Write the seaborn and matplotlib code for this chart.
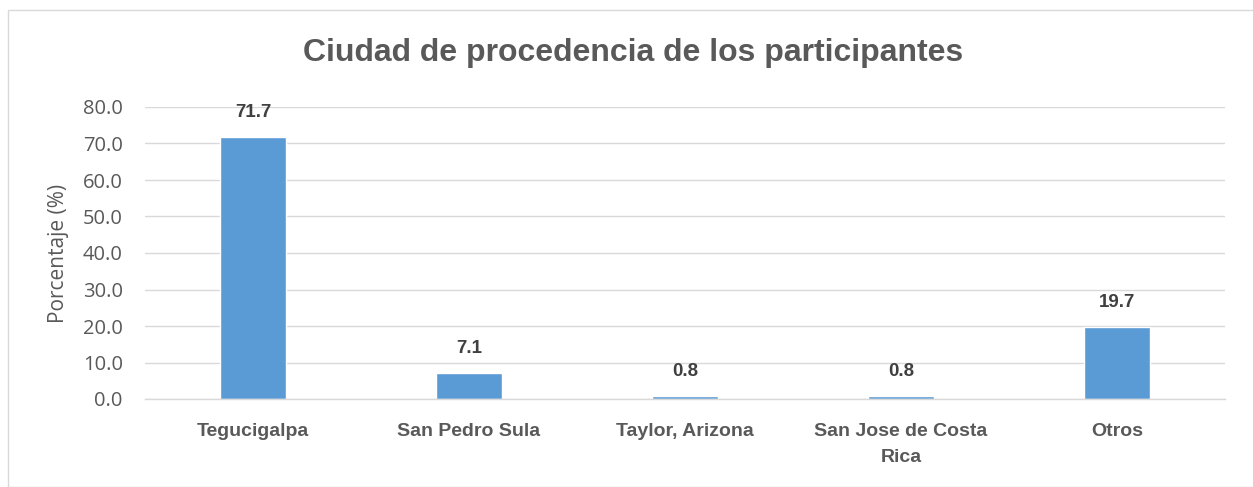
import numpy as np
import pandas as pd
import seaborn as sns
import matplotlib.pyplot as plt
from matplotlib.patches import Rectangle

sns.set_style("whitegrid")
plt.rcParams['font.family'] = ['Liberation Sans', 'DejaVu Sans']

# datos
ciudades = ["Tegucigalpa", "San Pedro Sula", "Taylor, Arizona", "San Jose de Costa\nRica", "Otros"]
porcentajes = [71.7, 7.1, 0.8, 0.8, 19.7]
yticks = [0, 10, 20, 30, 40, 50, 60, 70, 80]

df = pd.DataFrame({"ciudad": ciudades, "pct": porcentajes})

gris = "#595959"
fig = plt.figure(figsize=(12.53, 4.87), dpi=100)
ax = fig.add_axes([145 / 1253, 1 - 399 / 487, 1080 / 1253, 292 / 487])

sns.barplot(data=df, x="ciudad", y="pct", color="#5B9BD5", width=0.305, saturation=1, ax=ax)

# etiquetas de valor sobre cada barra
for i, v in enumerate(porcentajes):
    ax.annotate(f"{v:.1f}", (i, v), xytext=(0, 18), textcoords="offset points",
                ha="center", va="center", fontsize=13.5, fontweight="bold", color="#404040")

ax.set_ylim(0, 80)
ax.set_xlim(-0.5, len(ciudades) - 0.5)
ax.set_yticks(yticks)
ax.set_yticklabels([f"{t:.1f}" for t in yticks], fontsize=14.5, color=gris,
                   family=['Open Sans', 'DejaVu Sans'])
ax.set_xticks(range(len(ciudades)))
ax.set_xticklabels(ciudades, fontsize=14, fontweight="bold", color=gris, linespacing=1.75)
ax.set_xlabel("")
ax.set_ylabel("Porcentaje (%)", fontsize=15, color=gris, family=['Open Sans', 'DejaVu Sans'])
ax.yaxis.set_label_coords(-76 / 1080, 0.5)
ax.tick_params(axis="y", length=0, pad=16)
ax.tick_params(axis="x", length=0, pad=17)
ax.grid(axis="y", color="#D9D9D9", linewidth=1)
ax.grid(axis="x", visible=False)
for s in ["top", "right", "left"]:
    ax.spines[s].set_visible(False)
ax.spines["bottom"].set_color("#D9D9D9")
ax.spines["bottom"].set_linewidth(1)

fig.text(633 / 1253, 1 - 53 / 487, "Ciudad de procedencia de los participantes",
         ha="center", va="center", fontsize=23, fontweight="bold", color=gris)

# marco del grafico
fig.patches.append(Rectangle((8 / 1253, 0), 1.0, 1 - 10 / 487, transform=fig.transFigure,
                             fill=False, edgecolor="#D9D9D9", linewidth=1))

fig.savefig("out.png", dpi=100)
